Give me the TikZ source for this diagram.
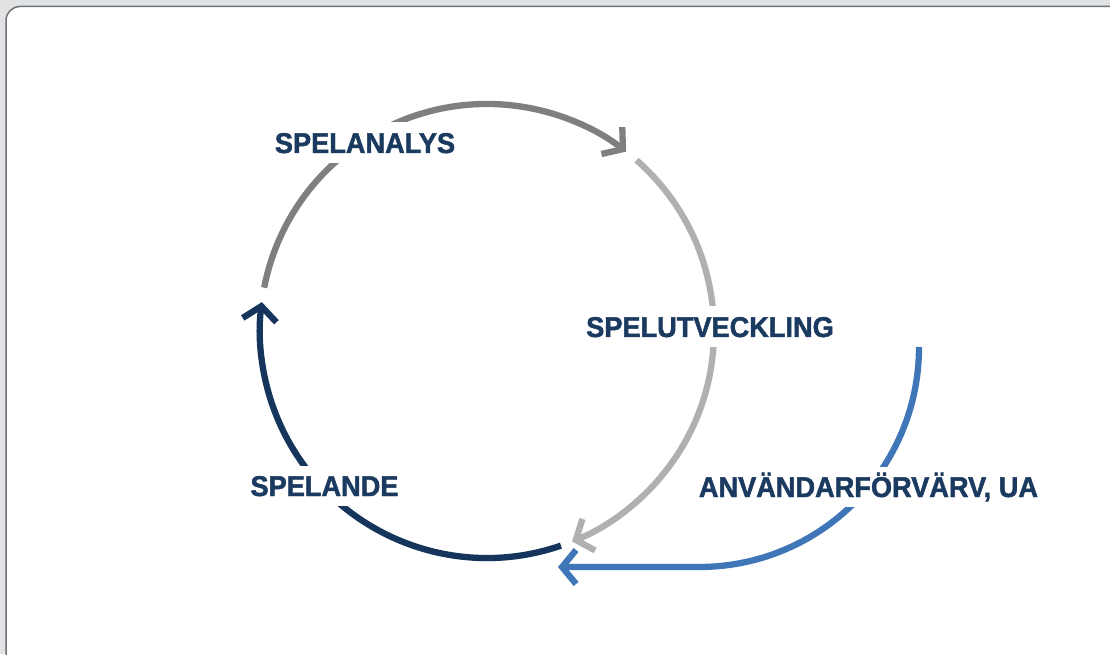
\documentclass[tikz,border=0pt]{standalone}
\usepackage{fontspec}
\setmainfont{Liberation Sans}[BoldFeatures={FakeBold=1.6,FakeStretch=0.95}]
\usetikzlibrary{arrows.meta}
\definecolor{bgc}{HTML}{E1E2E4}
\definecolor{framec}{HTML}{6E7175}
\definecolor{labelc}{HTML}{1B3A5F}
\definecolor{arcgray}{HTML}{7F7F7F}
\definecolor{arclight}{HTML}{B0B0B0}
\definecolor{arcnavy}{HTML}{15355C}
\definecolor{arcblue}{HTML}{3F76B8}
\begin{document}
\begin{tikzpicture}[x=1pt,y=1pt,
  lbl/.style={font=\bfseries\fontsize{28.6}{32}\selectfont, text=labelc, fill=white,
    inner xsep=4pt, inner ysep=10pt, text height=20.5pt, text depth=0pt, anchor=base},
  cyc/.style={line width=6.3pt, -{Straight Barb[length=14pt,width=34pt]}}]
\useasboundingbox (0,0) rectangle (1110,654);
\clip (0,0) rectangle (1110,654);
\fill[bgc] (0,0) rectangle (1110,654);
\draw[framec, line width=1.5pt, fill=white, rounded corners=14pt] (6,-12) rectangle (1124,647.5);

\coordinate (c) at (487,323);
% arcs
\draw[cyc, arcgray] (c) ++(169:227) coordinate (g0) arc[start angle=169, end angle=52.2, radius=227] coordinate (g1);
\draw[cyc, arclight] (c) ++(48.8:227) coordinate (l0) arc[start angle=48.8, end angle=-68, radius=227] coordinate (l1);
\draw[cyc, arcnavy] (c) ++(-71:227) coordinate (n0) arc[start angle=-71, end angle=-187.3, radius=227] coordinate (n1);
\coordinate (b0) at (919,307);
\coordinate (b2) at (558,87);
\draw[cyc, arcblue] (b0) arc[start angle=0, end angle=-90, radius=220] coordinate (b1) -- (b2);

% labels
\node[lbl] (ana) at (365,501) {SPELANALYS};
\node[lbl] (utv) at (710,317) {SPELUTVECKLING};
\node[lbl] (ua) at (868.5,157) {ANVÄNDARFÖRVÄRV, UA};
\node[lbl] (spe) at (324.5,158) {SPELANDE};
\end{tikzpicture}
\end{document}
